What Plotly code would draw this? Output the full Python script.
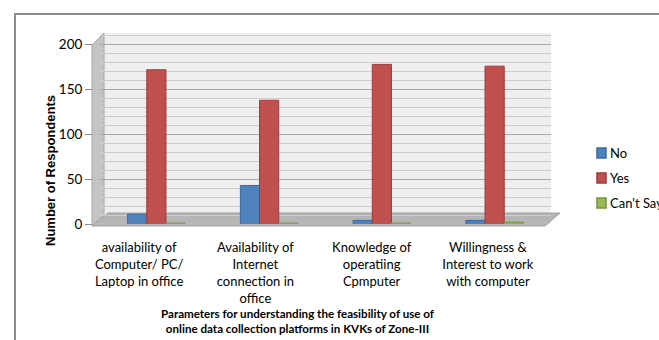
import plotly.graph_objects as go

categories = [
    "availability of<br>Computer/ PC/<br>Laptop in office",
    "Availability of<br>Internet<br>connection in<br>office",
    "Knowledge of<br>operatiing<br>Cpmputer",
    "Willingness &<br>Interest to work<br>with computer",
]
no_vals = [11, 43, 4, 4]
yes_vals = [172, 138, 178, 176]
cant_vals = [1, 1, 1, 2]
y_ticks = [0, 50, 100, 150, 200]

series = [("No", no_vals, "#4f81bd", "#3a6aa3"),
          ("Yes", yes_vals, "#c0504d", "#9e3b38"),
          ("Can't Say", cant_vals, "#9bbb59", "#76923c")]

# geometry helpers (pixels -> paper)
L, R, T, B = 81, 108, 33, 116
W, H = 659 - L - R, 340 - T - B
def px(x):
    return (x - L) / W
def py(y):
    return (340 - B - y) / H

fig = go.Figure()
idx = list(range(len(categories)))
for name, vals, col, edge in series:
    fig.add_trace(go.Bar(
        name=name, x=idx, y=vals,
        marker=dict(color=col, line=dict(color=edge, width=1)),
        showlegend=False,
    ))

# invisible trace that carries the category label axis
fig.add_trace(go.Scatter(x=idx, y=[None] * len(idx), xaxis="x2", yaxis="y2",
                         mode="markers", showlegend=False, hoverinfo="skip"))

shapes = [
    # floor band
    dict(type="path", xref="paper", yref="paper",
         path=f"M {px(92)},{py(226)} L {px(545)},{py(226)} L {px(560)},{py(213)} L {px(108)},{py(213)} Z",
         fillcolor="#b5b5b5", line=dict(color="#a0a0a0", width=1), layer="below"),
    # side wall
    dict(type="path", xref="paper", yref="paper",
         path=f"M {px(92)},{py(226)} L {px(92)},{py(45)} L {px(104)},{py(33)} L {px(104)},{py(215)} Z",
         fillcolor="#c4c4c4", line=dict(color="#a8a8a8", width=1), layer="below"),
    # outer frame
    dict(type="path", xref="paper", yref="paper",
         path=f"M {px(15)},{py(360)} L {px(15)},{py(14)} L {px(700)},{py(14)}",
         line=dict(color="#8c8c8c", width=2)),
]

annotations = [
    dict(text="<b>Number of Respondents</b>", textangle=-90, xref="paper", yref="paper",
         x=px(50), y=py(171), showarrow=False, xanchor="center", yanchor="middle",
         font=dict(family="Liberation Sans, Arial", size=13, color="black")),
    dict(text="<b>Parameters for understanding the feasibility of use of<br>online data collection platforms in KVKs of Zone-III</b>",
         xref="paper", yref="paper", x=px(298), y=py(321), showarrow=False,
         xanchor="center", yanchor="middle",
         font=dict(family="Lato, Arial", size=11.6, color="black")),
]

leg_y = [153, 178, 203]
for (name, vals, col, edge), yy in zip(series, leg_y):
    shapes.append(dict(type="rect", xref="paper", yref="paper",
                       x0=px(597), x1=px(606), y0=py(yy - 5), y1=py(yy + 5),
                       fillcolor=col, line=dict(color=edge, width=1.5)))
    annotations.append(dict(text=name, xref="paper", yref="paper",
                            x=px(608), y=py(yy), xanchor="left", yanchor="middle",
                            showarrow=False,
                            font=dict(family="Lato, Arial", size=13, color="black")))

fig.update_layout(
    width=659, height=340,
    margin=dict(l=L, r=R, t=T, b=B),
    paper_bgcolor="white",
    plot_bgcolor="#efefef",
    barmode="group",
    bargap=0.49,
    bargroupgap=0.0,
    font=dict(family="Lato, Liberation Sans, Arial", size=12, color="black"),
    showlegend=False,
    shapes=shapes,
    annotations=annotations,
    xaxis=dict(
        domain=[px(100), px(551)], range=[-0.5, 3.5],
        showgrid=False, showline=False, ticks="", showticklabels=False,
        zeroline=False,
    ),
    xaxis2=dict(
        domain=[px(81), px(546)], range=[-0.5, 3.5], anchor="y2",
        tickvals=idx, ticktext=categories, side="bottom",
        showgrid=False, showline=False, ticks="", zeroline=False,
        tickfont=dict(family="Lato, Arial", size=13),
        ticklabelstandoff=14,
    ),
    yaxis2=dict(
        domain=[0, 0.0005], anchor="x2", visible=False, range=[0, 1],
    ),
    yaxis=dict(
        range=[0, 213], tickvals=y_ticks,
        anchor="free", position=px(92),
        showgrid=True, gridcolor="#a8a8a8", gridwidth=1,
        minor=dict(dtick=10, showgrid=True, gridcolor="#cdcdcd", gridwidth=1),
        zeroline=False,
        showline=False,
        ticks="outside", ticklen=7, tickcolor="#8c8c8c",
        tickfont=dict(family="Lato, Arial", size=13.5),
    ),
)

fig.write_html("out.html")
